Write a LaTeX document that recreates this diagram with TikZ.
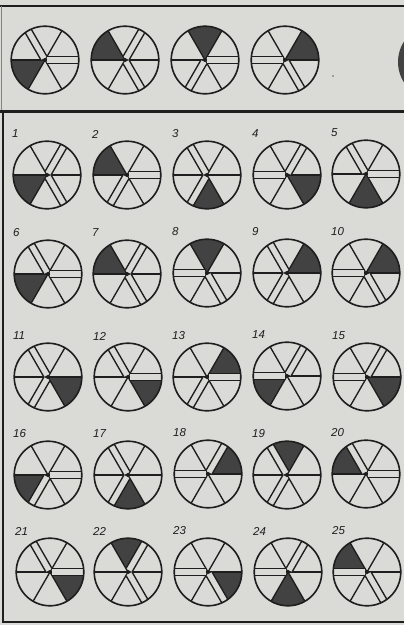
\documentclass[tikz,border=0pt]{standalone}
\usepackage{fontspec}
\setmainfont{Liberation Sans}
\definecolor{bg}{RGB}{218,218,215}
\definecolor{ink}{RGB}{30,30,30}
\definecolor{shd}{RGB}{66,66,66}
\def\R{33.8}
\def\h{3.5}
\def\t{2.0}
\def\L{33.62}
\tikzset{
  inkline/.style={draw=ink, line width=1.35pt},
  rim/.style={draw=ink, line width=1.6pt},
  lbl/.style={anchor=west, inner sep=0pt, text=ink, font=\fontsize{11.5}{11.5}\selectfont\itshape},
  frame/.style={draw=ink, line width=2.5pt}
}
% #1 x, #2 y (pixels, downward), #3 start angle of shaded sector, #4 doubled radii
\newcommand\wheelbase[4]{%
  \begin{scope}[shift={(#1,-#2)}]
    \fill[shd] (0,0) -- (#3:\R) arc[start angle=#3, delta angle=60, radius=\R] -- cycle;
    \foreach \a in {0,60,...,300} {\draw[inkline] (0,0) -- (\a:\R);}
    \foreach \a in {#4} {
      \begin{scope}[rotate=\a]
        \fill[bg] (\t,-\h) rectangle (\L,\h);
        \draw[inkline] (\t,\h) -- (\L,\h) (\t,-\h) -- (\L,-\h);
      \end{scope}}
    \draw[rim] (0,0) circle[radius=\R];
  \end{scope}}
\newcommand\wheel[5]{%
  \wheelbase{#1}{#2}{#3}{#4}
  \node[lbl] (lab#5) at (#1-35,-#2+41) {#5};}
\begin{document}
\begin{tikzpicture}[x=1pt,y=1pt]
\useasboundingbox (0,0) rectangle (404,-625);
\fill[bg] (0,0) rectangle (404,-625);
% frames
\draw[frame] (0,-6) -- (404,-6);
\draw[draw=ink!55, line width=0.9pt] (1.5,-6) -- (1.5,-110);
\draw[frame, line width=2.8pt] (0,-111.5) -- (404,-111.5);
\draw[frame] (3,-111) -- (3,-623);
\draw[frame, line width=2pt] (3,-621.5) -- (404,-621.5);
% cut-off figure at right of the top panel
\fill[shd] (436,-62) circle[radius=38];
\fill[ink!70] (333,-76) circle[radius=0.9];
% top panel
\wheelbase{45}{60}{180}{120,0}
\wheelbase{125}{60}{120}{60,300}
\wheelbase{205}{60}{60}{0,240}
\wheelbase{285}{60}{0}{180,300}
% row 1
\wheel{47}{175}{180}{60,300}{1}
\wheel{127}{175}{120}{0,240}{2}
\wheel{207}{175}{240}{120,240}{3}
\wheel{287}{175}{300}{180,60}{4}
\wheel{366}{174}{240}{120,0}{5}
% row 2
\wheel{48}{274}{180}{120,0}{6}
\wheel{127}{274}{120}{60,300}{7}
\wheel{207}{273}{60}{180,300}{8}
\wheel{287}{273}{0}{120,240}{9}
\wheel{366}{273}{0}{180,300}{10}
% row 3
\wheel{48}{377}{300}{120,240}{11}
\wheel{128}{377}{300}{120,0}{12}
\wheel{207}{377}{0}{0,240}{13}
\wheel{287}{376}{180}{180,60}{14}
\wheel{367}{377}{300}{180,60}{15}
% row 4
\wheel{48}{475}{180}{0,240}{16}
\wheel{128}{475}{240}{120,240}{17}
\wheel{208}{474}{0}{180,60}{18}
\wheel{287}{475}{60}{120,240}{19}
\wheel{366}{474}{120}{120,0}{20}
% row 5
\wheel{50}{572}{300}{120,0}{21}
\wheel{128}{572}{60}{60,300}{22}
\wheel{208}{572}{300}{180,300}{23}
\wheel{288}{572}{240}{180,60}{24}
\wheel{367}{572}{120}{180,300}{25}
\end{tikzpicture}
\end{document}
